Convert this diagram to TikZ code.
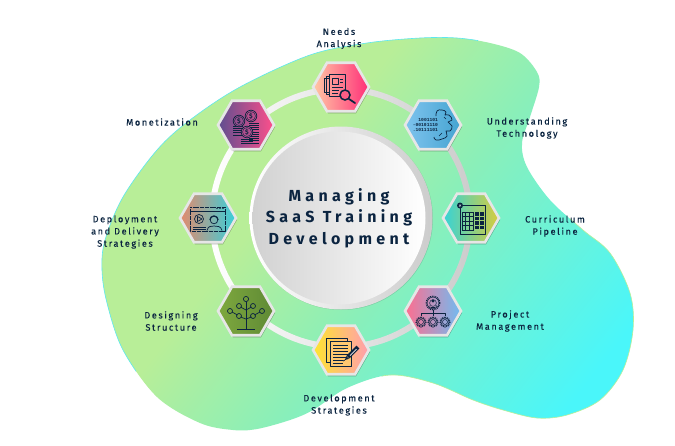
\documentclass[tikz,border=0pt]{standalone}
\usepackage{fontspec}
\setmainfont{Fira Sans}
\newfontfamily\lab[LetterSpace=17,FakeBold=0.25]{Fira Sans}
\newfontfamily\ctr[LetterSpace=27]{Fira Sans}
\newfontfamily\bin{Liberation Mono}
\usetikzlibrary{shapes.geometric,shadows,calc}
\definecolor{navy}{HTML}{0B2440}
\definecolor{gra}{HTML}{B8EE98}
\definecolor{grb}{HTML}{8BEFB8}
\definecolor{grc}{HTML}{4AF6FA}
\definecolor{hexedge}{HTML}{E6E6E6}
\definecolor{edgeb}{HTML}{5CE8F0}
\pgfdeclareverticalshading{blobgrad}{100bp}{color(0bp)=(grc);color(22bp)=(grc);color(46bp)=(grb);color(60bp)=(gra);color(100bp)=(gra)}
\newcommand{\blobpath}{plot[smooth cycle,tension=.55] coordinates {(367,43)(420,38)(457,38)(490,43)(520,53)(537,72)(539,87)(530,117)(522,143)(527,167)(550,200)(583,230)(610,253)(630,293)(633,330)(623,370)(600,400)(567,415)(537,418)(503,410)(473,400)(433,383)(390,375)(347,388)(313,410)(290,420)(257,429)(233,430)(200,423)(157,397)(123,350)(107,303)(102,270)(105,240)(123,197)(157,150)(190,120)(240,87)(310,55)}}
\newcommand{\gearic}[3]{\draw[navy,line width=1.2pt,dash pattern=on .9pt off .9pt] (#1,#2) circle (#3);\draw[navy,line width=.5pt] (#1,#2) circle (#3-.9) (#1,#2) circle (#3*.5);}
\newcommand{\coinic}[3]{\draw[navy,line width=.7pt,fill=#3] (#1,#2) circle (5.8);\draw[navy,line width=.35pt] (#1,#2) circle (4.5);\node[navy,font=\bfseries\fontsize{6.5}{6.5}\selectfont,inner sep=0] at (#1,#2) {\$};}
\tikzset{
 x=1pt,y=-1pt,
 hexa/.style={regular polygon,regular polygon sides=6,minimum size=56,inner sep=0,draw=hexedge,line width=2.6pt,
   drop shadow={shadow xshift=1pt,shadow yshift=-2pt,opacity=.28,fill=black}},
 lbl/.style={font=\lab\fontsize{9.2}{12.2}\selectfont,text=navy,align=center,inner sep=0},
 ic/.style={draw=navy,line width=.7pt,line join=round},
 thin ic/.style={draw=navy,line width=.45pt},
}
\definecolor{na}{HTML}{FFC9A5}\definecolor{nb}{HTML}{FF2E78}
\definecolor{ua}{HTML}{7EC3EE}\definecolor{ub}{HTML}{45A4D1}
\definecolor{ca}{HTML}{35D3D8}\definecolor{cm}{HTML}{78BC90}\definecolor{cb}{HTML}{D8CC3C}
\definecolor{pa}{HTML}{FF6E8F}\definecolor{pm}{HTML}{B08CC0}\definecolor{pb}{HTML}{6FBCF2}
\definecolor{da}{HTML}{FFE52F}\definecolor{dm}{HTML}{FFC870}\definecolor{db}{HTML}{FF9DB0}
\definecolor{sa}{HTML}{7EA83E}\definecolor{sb}{HTML}{5F8A35}
\definecolor{ea}{HTML}{E58A6C}\definecolor{em}{HTML}{A99C94}\definecolor{eb}{HTML}{36D0DC}
\definecolor{ma}{HTML}{5E4F90}\definecolor{mb}{HTML}{FF4F8B}
\begin{document}
\begin{tikzpicture}
\useasboundingbox (0,0) rectangle (675,445);
\fill[white] (0,0) rectangle (675,445);
% blob
\path[shading=blobgrad,shading angle=52] \blobpath;
\begin{scope}
 \clip (0,0) -- (520,0) -- (60,445) -- (0,445) -- cycle;
 \draw[edgeb,line width=.6pt] \blobpath;
\end{scope}
\begin{scope}
 \clip (675,130) -- (675,445) -- (300,445) -- cycle;
 \draw[gra,line width=.6pt] \blobpath;
\end{scope}
\coordinate (c) at (341,218);
% ring
\path[even odd rule,left color=white,right color=black!20] (c) circle (132) (c) circle (126);
% centre
\node[circle,minimum size=183,inner sep=0,left color=white,right color=black!20,
  drop shadow={shadow xshift=.5pt,shadow yshift=-.5pt,opacity=.12,fill=black}] (outer) at (c) {};
\node[circle,minimum size=173,inner sep=0,left color=black!18,right color=white,text=navy,align=center,
  font=\ctr\bfseries\fontsize{16}{21.6}\selectfont] (centre) at (339,218) {Managing\\SaaS Training\\Development};
% hexagons
\node[hexa,left color=na,right color=nb] (hneeds) at (341,87) {};
\node[hexa,left color=ua,right color=ub] (hunder) at (433,125) {};
\node[hexa,left color=ca,middle color=cm,right color=cb] (hcurr) at (471,218) {};
\node[hexa,left color=pa,middle color=pm,right color=pb] (hproj) at (433,311) {};
\node[hexa,left color=da,middle color=dm,right color=db] (hdev) at (341,350) {};
\node[hexa,left color=sa,right color=sb] (hdes) at (246,311) {};
\node[hexa,left color=ea,middle color=em,right color=eb] (hdep) at (208,218) {};
\node[hexa,left color=ma,right color=mb] (hmon) at (246,125) {};
% needs icon
\begin{scope}[shift={(hneeds)}]
 \draw[ic] (-12,-9) -- (-17,-9) -- (-17,5) -- (-12,5) (-15,-11) rectangle (-12,7);
 \draw[ic] (-12,-13) rectangle (4,9);
 \draw[ic] (-9,-9) rectangle (-3,-3);
 \draw[thin ic] (-1,-8) -- (2,-8) (-1,-5) -- (2,-5) (-9,0) -- (2,0) (-9,3) -- (-2,3) (-9,6) -- (-3,6);
 \draw[navy,line width=1.5pt,fill=nb!70!na] (4,8) circle (5);
 \draw[navy,line width=1.8pt,line cap=round] (8,12) -- (14,16);
\end{scope}
% understanding icon
\begin{scope}[shift={(hunder)}]
 \node[text=navy,inner sep=0,align=right,anchor=east,font=\bin\bfseries\fontsize{4.6}{4.7}\selectfont] (bindig) at (5,0) {1001101\\-00101110\\.10111101};
 \draw[ic] plot[smooth,tension=.9] coordinates {(3,-9)(4,-14)(9,-15)(13,-13)(12,-10)(16,-10)(19,-5)(15,-3)(19,1)(17,6)(13,6)(14,11)(9,14)(3,15)(1,12)};
 \draw[thin ic] (6,11) -- (9,8) (11,-8) -- (13,-6);
\end{scope}
% curriculum icon
\begin{scope}[shift={(hcurr)}]
 \draw[ic] (-11,-13) rectangle (14,16);
 \draw[thin ic] (-9,-6) rectangle (2,12);
 \foreach \gx in {-5.3,-1.6}{\draw[thin ic] (\gx,-6) -- (\gx,12);}
 \foreach \gy in {-1.5,3,7.5}{\draw[thin ic] (-9,\gy) -- (2,\gy);}
 \foreach \cx in {3.5,8.5}\foreach \cy in {-6,-1.5,3,7.5}{\fill[navy] (\cx,\cy) rectangle +(4,3.5);}
 \fill[navy] (-11,-12.5) circle (3);
 \draw[white,line width=.35pt] (-12,-13.5) -- (-10,-11.5) (-12,-11.5) -- (-10,-13.5);
\end{scope}
% project icon
\begin{scope}[shift={(hproj)}]
 \gearic{0}{-8}{6.8}
 \fill[navy] (0,-10) circle (1.7);
 \fill[navy] (-3.5,-4) -- (-3.5,-6) arc[start angle=180,end angle=0,radius=3.5] -- (3.5,-4) -- cycle;
 \draw[ic] (0,-1) -- (0,2) (-12,5) -- (-12,2) -- (12,2) -- (12,5) (0,2) -- (0,5);
 \gearic{-12}{11}{5}
 \gearic{0}{11}{5}
 \gearic{12}{11}{5}
\end{scope}
% development icon
\begin{scope}[shift={(hdev)}]
 \draw[ic,line width=.9pt] (-15,-12) rectangle (6,12);
 \draw[ic,line width=.9pt,fill=dm] (-11,-9) rectangle (10,16);
 \draw[ic,line width=.8pt] (-8,-5) -- (7,-5) (-8,-2) -- (7,-2) (-8,1) -- (7,1) (-8,4) -- (7,4) (-8,7) -- (5,7) (-8,10) -- (2,10) (-8,13) -- (2,13);
 \draw[navy,line width=4pt] (7,7) -- (17,-3);
 \draw[white!80!pink,line width=.7pt] (9,5.5) -- (15.5,-1);
 \fill[navy] (4,10) -- (5.2,6) -- (8,8.8) -- cycle;
 \draw[ic] (2,11) -- (4,10);
\end{scope}
% designing icon
\begin{scope}[shift={(hdes)}]
 \draw[ic] (0,-9.5) -- (0,18) (-9,18) -- (9,18);
 \draw[ic] (0,-1) -- (-5.5,-4) (0,-1) -- (5.5,-4);
 \draw[ic] (0,8) -- (-5.5,6) (0,8) -- (5.5,6) (-8.5,4) -- (-14,1) (8.5,4) -- (14,1);
 \foreach \px/\py/\rr in {0/-12/2.6,-7/-5/2.5,7/-5/2.5,-16/0/2.5,16/0/2.5,-7/5/2.5,7/5/2.5}{\draw[ic] (\px,\py) circle (\rr);}
\end{scope}
% deployment icon
\begin{scope}[shift={(hdep)}]
 \draw[ic,line width=.9pt,dash pattern=on 1.4pt off .3pt] (-18,-11) rectangle (17,13);
 \draw[ic] (-18,-6.5) -- (17,-6.5);
 \fill[navy] (9,-9.6) circle (.8) (12,-9.6) circle (.8) (15,-9.6) circle (.8);
 \draw[ic] (-9,1) circle (4.5);
 \draw[ic] (-10.5,-1.5) -- (-6,1) -- (-10.5,3.5) -- cycle;
 \draw[thin ic] (-15,9) -- (-2,9) (-15,11) -- (-2,11);
 \draw[ic] (6,2) circle (3.8);
 \draw[ic,line width=1pt] (1.8,2) arc[start angle=180,end angle=360,radius=4.2];
 \draw[ic] (-1,12.5) .. controls (0,8) and (3,8) .. (6,8) .. controls (9,8) and (13,8) .. (14,12.5);
\end{scope}
% monetization icon
\begin{scope}[shift={(hmon)}]
 \foreach \sy in {1,3.2,...,11}{\draw[navy,line width=.6pt] (-13,\sy) -- (-3,\sy);}
 \foreach \sy in {-2,0.2,...,18}{\draw[navy,line width=.6pt] (3,\sy) -- (13,\sy);}
 \foreach \sy in {14,16.2,18.4}{\draw[navy,line width=.6pt] (-5,\sy) -- (7,\sy);}
 \coinic{-7}{-4}{ma!65!mb}
 \coinic{5}{-9}{ma!45!mb}
 \coinic{1}{7}{ma!50!mb}
\end{scope}
% labels
\node[lbl] (lneeds) at (339,38.5) {Needs\\Analysis};
\node[lbl] (lunder) at (527,128) {Understanding\\Technology};
\node[lbl] (lcurr) at (555,226) {Curriculum\\Pipeline};
\node[lbl] (lproj) at (510,321) {Project\\Management};
\node[lbl] (ldev) at (339,405) {Development\\Strategies};
\node[lbl] (ldes) at (171,321) {Designing\\Structure};
\node[lbl] (ldep) at (125,232) {Deployment\\and Delivery\\Strategies};
\node[lbl] (lmon) at (162,122) {Monetization};
\end{tikzpicture}
\end{document}
